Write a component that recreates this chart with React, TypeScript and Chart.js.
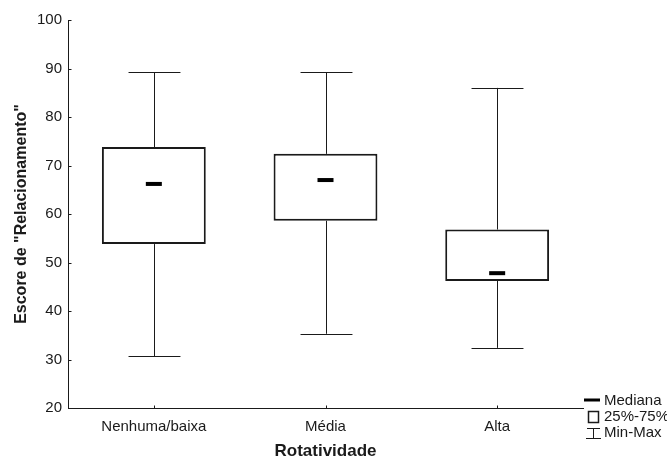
import React, { useEffect, useRef } from "react";
import { Chart, registerables } from "chart.js";

Chart.register(...registerables);

const categories = ["Nenhuma/baixa", "Média", "Alta"];
const mins = [30.7, 35.3, 32.4];
const q1s = [53.8, 58.6, 46.2];
const medians = [66.2, 67.0, 47.8];
const q3s = [73.8, 72.4, 56.8];
const maxs = [89.2, 89.2, 86.0];
const yTicks = [20, 30, 40, 50, 60, 70, 80, 90, 100];
const legendLabels = ["Mediana", "25%-75%", "Min-Max"];

const FONT = "'Liberation Sans', Arial, sans-serif";
const INK = "#1a1a1a";

const boxPlugin = {
  id: "boxExtras",
  afterDatasetsDraw(chart: any) {
    const { ctx, scales } = chart;
    const x = scales.x;
    const y = scales.y;
    const meta = chart.getDatasetMeta(0);
    ctx.save();
    ctx.strokeStyle = INK;
    categories.forEach((_, i) => {
      const bar = meta.data[i];
      const cx = x.getPixelForValue(i);
      const w = bar ? bar.width : 100;
      const capHalf = w / 4;
      const yMin = y.getPixelForValue(mins[i]);
      const yMax = y.getPixelForValue(maxs[i]);
      const yQ1 = y.getPixelForValue(q1s[i]);
      const yQ3 = y.getPixelForValue(q3s[i]);
      const yMed = y.getPixelForValue(medians[i]);
      const px = Math.round(cx) + 0.5;
      ctx.lineWidth = 1;
      ctx.beginPath();
      ctx.moveTo(px, yQ3);
      ctx.lineTo(px, yMax);
      ctx.moveTo(px - capHalf, Math.round(yMax) + 0.5);
      ctx.lineTo(px + capHalf, Math.round(yMax) + 0.5);
      ctx.moveTo(px, yQ1);
      ctx.lineTo(px, yMin);
      ctx.moveTo(px - capHalf, Math.round(yMin) + 0.5);
      ctx.lineTo(px + capHalf, Math.round(yMin) + 0.5);
      ctx.stroke();
      ctx.fillStyle = "#000";
      ctx.fillRect(cx - 8, yMed - 2, 16, 4);
    });
    // inward tick marks
    ctx.lineWidth = 1;
    ctx.beginPath();
    yTicks.forEach((v) => {
      const py = Math.round(y.getPixelForValue(v)) + 0.5;
      ctx.moveTo(x.left, py);
      ctx.lineTo(x.left + 3.5, py);
    });
    categories.forEach((_, i) => {
      const px = Math.round(x.getPixelForValue(i)) + 0.5;
      ctx.moveTo(px, y.bottom);
      ctx.lineTo(px, y.bottom - 2.5);
    });
    ctx.stroke();
    ctx.restore();
  },
  afterDraw(chart: any) {
    const { ctx, scales } = chart;
    const x = scales.x;
    const y = scales.y;
    const lx = x.right + 1;
    const baseY = y.bottom - 8;
    ctx.save();
    ctx.strokeStyle = INK;
    ctx.fillStyle = "#000";
    // median symbol
    ctx.fillRect(lx, baseY - 1.5, 16, 3);
    // box symbol
    ctx.lineWidth = 1.5;
    ctx.strokeRect(lx + 4.5, baseY + 11.5, 10, 11);
    // min-max symbol
    ctx.lineWidth = 1;
    const mx = lx + 9.5;
    const t = baseY + 28.5;
    const b = baseY + 38.5;
    ctx.beginPath();
    ctx.moveTo(lx + 3, t);
    ctx.lineTo(lx + 16, t);
    ctx.moveTo(mx, t);
    ctx.lineTo(mx, b);
    ctx.moveTo(lx + 2, b);
    ctx.lineTo(lx + 17, b);
    ctx.stroke();
    ctx.fillStyle = INK;
    ctx.font = `15px ${FONT}`;
    ctx.textBaseline = "middle";
    ctx.textAlign = "left";
    ctx.fillText(legendLabels[0], lx + 20, baseY + 1);
    ctx.fillText(legendLabels[1], lx + 20, baseY + 17);
    ctx.fillText(legendLabels[2], lx + 20, baseY + 33);
    ctx.restore();
  },
};

export default function App() {
  const ref = useRef<HTMLCanvasElement | null>(null);
  useEffect(() => {
    if (!ref.current) return;
    const chart = new Chart(ref.current, {
      type: "bar",
      data: {
        labels: categories,
        datasets: [
          {
            label: "25%-75%",
            data: categories.map((_, i) => [q1s[i], q3s[i]]) as any,
            backgroundColor: "#ffffff",
            borderColor: INK,
            borderWidth: 2,
            borderSkipped: false,
            barPercentage: 0.605,
            categoryPercentage: 1,
          },
        ],
      },
      options: {
        responsive: false,
        animation: false,
        layout: { padding: { top: 20, right: 84, left: 0, bottom: 0 } },
        plugins: { legend: { display: false }, tooltip: { enabled: false } },
        scales: {
          x: {
            offset: true,
            grid: { display: false, drawTicks: false },
            border: { display: true, color: INK, width: 1 },
            ticks: { color: INK, padding: 10, font: { family: FONT, size: 15 } },
            title: {
              display: true,
              text: "Rotatividade",
              color: INK,
              font: { family: FONT, size: 17, weight: "bold", lineHeight: 1 },
              padding: { top: 0, bottom: -1 },
            },
            afterFit(scale: any) {
              scale.height = 51;
            },
          },
          y: {
            min: 20,
            max: 100,
            ticks: { stepSize: 10, color: INK, padding: 6, font: { family: FONT, size: 15 } },
            grid: { display: false, drawTicks: false },
            border: { display: true, color: INK, width: 1 },
            title: {
              display: true,
              text: 'Escore de "Relacionamento"',
              color: INK,
              font: { family: FONT, size: 16, weight: "bold" },
              padding: { top: 12, bottom: 0 },
            },
            afterFit(scale: any) {
              scale.width = 68;
            },
          },
        },
      },
      plugins: [boxPlugin],
    });
    return () => chart.destroy();
  }, []);
  return (
    <div style={{ position: "fixed", left: 0, top: 0, width: 667, height: 459, background: "#fff" }}>
      <canvas ref={ref} width={667} height={459} style={{ display: "block" }} />
    </div>
  );
}
